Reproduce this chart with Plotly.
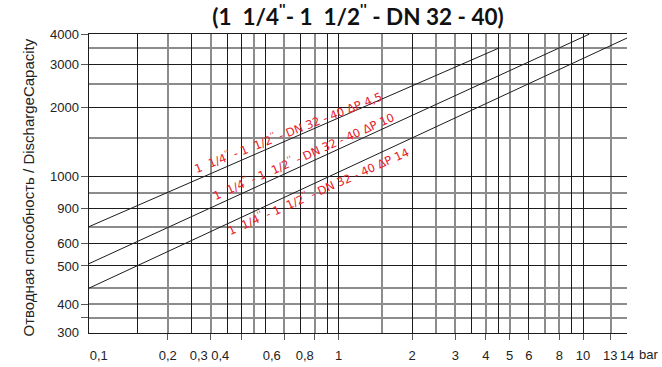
import numpy as np
import plotly.graph_objects as go

# ---------------- data ----------------
# pressure drop (bar) on x, discharge capacity on y (axis units of the chart)
SERIES_NAMES = ["1  1/4<sup>''</sup> - 1  1/2<sup>''</sup> - DN 32 - 40 ΔP 4,5",
                "1  1/4<sup>''</sup> - 1  1/2<sup>''</sup> - DN 32 - 40 ΔP 10",
                "1  1/4<sup>''</sup> - 1  1/2<sup>''</sup> - DN 32 - 40 ΔP 14"]
DP_45 = [0.0953, 4.5]
Q_45 = [653, 3500]
DP_10 = [0.0953, 10.6]
Q_10 = [461, 4000]
DP_14 = [0.0953, 15.12]
Q_14 = [366, 3856]

# where the red series labels sit (bar, capacity) and their slant
LABEL_DP = [0.6215, 0.7157, 0.824]
LABEL_Q = [1585, 1270, 908]
LABEL_ANGLE = [-21.5, -24, -24]

# x axis: grid lines, tick marks and printed labels
X_RANGE = [0.0953, 15.12]
X_GRID_DARK = [0.15, 0.25, 0.35, 0.4, 0.5, 0.7, 0.9, 1, 2, 3.5, 4.5, 6, 9, 10]
X_GRID_GRAY = [0.2, 0.3, 0.45, 0.6, 0.8, 1.5, 2.5, 3, 4, 5, 7, 8, 13, 15.1]
X_TICK_MARKS = [0.2, 0.3, 0.4, 0.6, 0.8, 1, 2, 3, 4, 5, 6, 8, 10, 13]
X_LABEL_POS = [0.1045, 0.2, 0.268, 0.328, 0.533, 0.727, 1, 2, 3, 4, 5, 6, 8, 10, 12.9, 15.11]
X_LABELS = ["0,1", "0,2", "0,3", "0,4", "0,6", "0,8", "1", "2", "3", "4", "5", "6",
            "8", "10", "13", "14"]
X_UNIT = "bar"

# y axis: grid lines, tick marks and printed labels
Y_RANGE = [240, 4005]
Y_GRID_DARK = [4000, 3000, 2000, 1052, 776, 558, 451]
Y_GRID_GRAY = [3500, 2500, 1500, 894, 653, 365, 315, 277]
Y_TICK_MARKS = [4000, 3000, 2000, 1052, 776, 558, 451, 315, 277]
Y_LABEL_POS = [4000, 3000, 2000, 1052, 776, 558, 451, 315, 241.5]
Y_LABELS = ["4000", "3000", "2000", "1000", "900", "600", "500", "400", "300"]

TITLE = "<b>(1  1/4<sup>''</sup>- 1  1/2<sup>''</sup> - DN 32 - 40)</b>"
Y_TITLE = "Отводная способность / DischargeCapacity"

# ---------------- style ----------------
DARK = "#1c1c1c"
GRAY = "#8c8c8c"
RED = "#e8202a"
FONT = "Liberation Sans, Arial, sans-serif"
W, H = 662, 367
ML, MR, MT, MB = 89, 35, 34, 34
PW, PH = W - ML - MR, H - MT - MB

fig = go.Figure()
for xs, ys in [(DP_45, Q_45), (DP_10, Q_10), (DP_14, Q_14)]:
    fig.add_trace(go.Scatter(x=xs, y=ys, mode="lines",
                             line=dict(color=DARK, width=1),
                             showlegend=False, hoverinfo="skip"))
# empty trace to carry the label/tick overlay axes
fig.add_trace(go.Scatter(x=[], y=[], xaxis="x2", yaxis="y2", showlegend=False))

xr = [np.log10(X_RANGE[0]), np.log10(X_RANGE[1])]
yr = [np.log10(Y_RANGE[0]), np.log10(Y_RANGE[1])]

fig.update_layout(
    width=W, height=H,
    margin=dict(l=ML, r=MR, t=MT, b=MB, autoexpand=False),
    paper_bgcolor="white", plot_bgcolor="white",
    font=dict(family=FONT, size=13, color="#222"),
    title=dict(text=TITLE, x=0.5, xref="paper", xanchor="center",
               y=1 - 17 / H, yref="container", yanchor="middle",
               font=dict(family="Lato, DejaVu Sans, sans-serif", size=22.5, color="#111")),
    xaxis=dict(type="log", range=xr, tickmode="array", tickvals=X_GRID_DARK,
               showticklabels=False, ticks="", showgrid=True, gridcolor=DARK, gridwidth=1,
               minor=dict(tickmode="array", tickvals=X_GRID_GRAY, showgrid=True,
                          gridcolor=GRAY, gridwidth=1.6, ticks=""),
               showline=True, linecolor=DARK, linewidth=1.2, mirror=True, zeroline=False,
               automargin=False),
    yaxis=dict(type="log", range=yr, tickmode="array", tickvals=Y_GRID_DARK,
               showticklabels=False, ticks="", showgrid=True, gridcolor=DARK, gridwidth=1,
               minor=dict(tickmode="array", tickvals=Y_GRID_GRAY, showgrid=True,
                          gridcolor=GRAY, gridwidth=1.6, ticks=""),
               showline=True, linecolor=DARK, linewidth=1.2, mirror=False, zeroline=False,
               automargin=False),
    xaxis2=dict(type="log", range=xr, overlaying="x", anchor="y2", side="bottom",
                tickmode="array", tickvals=X_LABEL_POS, ticktext=X_LABELS, ticks="",
                tickangle=0, ticklabelstandoff=13, showgrid=False, showline=False,
                zeroline=False, automargin=False, tickfont=dict(size=13, color="#222"),
                minor=dict(tickmode="array", tickvals=X_TICK_MARKS, ticks="outside",
                           ticklen=6, tickwidth=1.2, tickcolor="#555", showgrid=False)),
    yaxis2=dict(type="log", range=yr, overlaying="y", anchor="x2", side="left",
                tickmode="array", tickvals=Y_LABEL_POS, ticktext=Y_LABELS, ticks="",
                ticklabelstandoff=9, showgrid=False, showline=False, zeroline=False,
                automargin=False, tickfont=dict(size=13, color="#222"),
                minor=dict(tickmode="array", tickvals=Y_TICK_MARKS, ticks="outside",
                           ticklen=7, tickwidth=1.2, tickcolor="#555", showgrid=False)),
)

for name, dp, q, ang in zip(SERIES_NAMES, LABEL_DP, LABEL_Q, LABEL_ANGLE):
    fig.add_annotation(x=np.log10(dp), y=np.log10(q), xref="x", yref="y",
                       text=name, showarrow=False, textangle=ang,
                       font=dict(family="DejaVu Sans, sans-serif", size=11.5, color=RED))

# unit after the last x tick label
fig.add_annotation(x=1, xref="paper", y=0, yref="paper", xanchor="left", yanchor="top",
                   xshift=10, yshift=-12, text=X_UNIT, showarrow=False,
                   font=dict(family=FONT, size=13, color="#222"))

fig.add_annotation(x=(17 - ML) / PW, xref="paper", y=(MT + PH - 188) / PH, yref="paper",
                   text=Y_TITLE, showarrow=False, textangle=-90,
                   font=dict(family=FONT, size=15, color="#222"))

fig.write_html("out.html", config={"displayModeBar": False},
               post_script="document.body.style.margin='0';")
